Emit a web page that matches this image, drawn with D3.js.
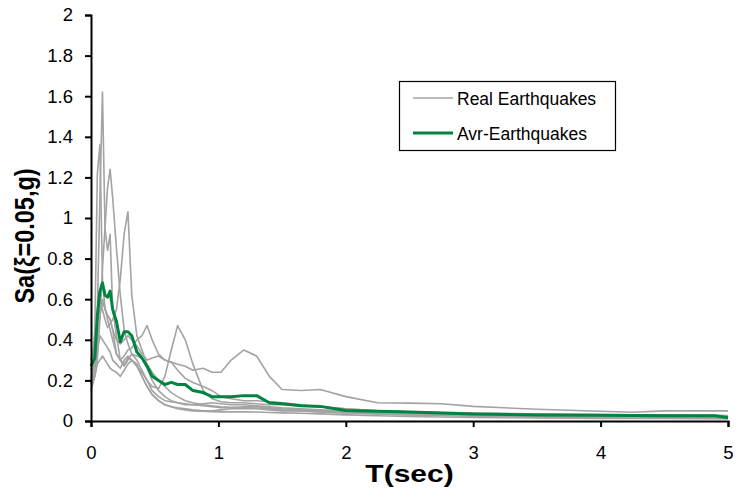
<!DOCTYPE html>
<html>
<head>
<meta charset="utf-8">
<script src="https://cdn.jsdelivr.net/npm/d3@7"></script>
<style>
  html, body { margin: 0; padding: 0; background: #fff; }
  svg { display: block; }
  text { font-family: Arial, "Liberation Sans", sans-serif; fill: #000; }
</style>
</head>
<body>
<svg id="chart" width="738" height="489"></svg>
<script>
// Period grid (sec) shared by every spectrum
const periods = [0, 0.03, 0.05, 0.07, 0.09, 0.11, 0.13, 0.15, 0.17, 0.20, 0.23, 0.26, 0.29, 0.32, 0.36, 0.40, 0.44, 0.48, 0.53, 0.58, 0.63, 0.68, 0.74, 0.80, 0.88, 0.95, 1.02, 1.1, 1.2, 1.3, 1.4, 1.5, 1.65, 1.8, 2.0, 2.25, 2.5, 2.75, 3.0, 3.5, 4.0, 4.25, 4.5, 4.9, 5.0];

// Spectral accelerations of the recorded ground motions (g)
const eq1 = [0.20, 0.30, 0.55, 1.10, 1.62, 0.95, 0.84, 0.92, 0.55, 0.42, 0.30, 0.28, 0.31, 0.30, 0.27, 0.22, 0.17, 0.13, 0.10, 0.08, 0.07, 0.065, 0.06, 0.055, 0.05, 0.05, 0.055, 0.06, 0.06, 0.06, 0.055, 0.05, 0.05, 0.045, 0.04, 0.035, 0.03, 0.03, 0.025, 0.022, 0.02, 0.02, 0.018, 0.016, 0.015];
const eq2 = [0.18, 0.45, 1.22, 1.36, 0.70, 0.55, 0.52, 0.50, 0.45, 0.33, 0.30, 0.27, 0.30, 0.33, 0.30, 0.25, 0.20, 0.15, 0.12, 0.10, 0.095, 0.09, 0.085, 0.08, 0.075, 0.07, 0.065, 0.065, 0.07, 0.07, 0.065, 0.06, 0.055, 0.05, 0.045, 0.04, 0.035, 0.033, 0.03, 0.027, 0.025, 0.024, 0.022, 0.02, 0.02];
const eq3 = [0.17, 0.22, 0.30, 0.50, 0.75, 0.95, 1.15, 1.24, 1.10, 0.85, 0.62, 0.45, 0.38, 0.33, 0.32, 0.31, 0.26, 0.20, 0.15, 0.12, 0.10, 0.09, 0.08, 0.08, 0.085, 0.09, 0.085, 0.08, 0.08, 0.075, 0.07, 0.065, 0.06, 0.055, 0.05, 0.045, 0.04, 0.037, 0.034, 0.03, 0.026, 0.025, 0.024, 0.022, 0.02];
const eq4 = [0.25, 0.35, 0.50, 0.60, 0.55, 0.50, 0.46, 0.48, 0.50, 0.55, 0.70, 0.92, 1.03, 0.62, 0.42, 0.35, 0.28, 0.24, 0.20, 0.17, 0.14, 0.12, 0.10, 0.09, 0.08, 0.075, 0.07, 0.068, 0.066, 0.064, 0.06, 0.055, 0.05, 0.045, 0.04, 0.035, 0.03, 0.027, 0.024, 0.02, 0.017, 0.015, 0.014, 0.013, 0.012];
const eq5 = [0.15, 0.25, 0.35, 0.42, 0.40, 0.38, 0.36, 0.34, 0.30, 0.28, 0.26, 0.30, 0.32, 0.30, 0.27, 0.24, 0.20, 0.17, 0.16, 0.22, 0.35, 0.47, 0.40, 0.28, 0.15, 0.11, 0.095, 0.09, 0.09, 0.085, 0.08, 0.08, 0.075, 0.07, 0.06, 0.05, 0.045, 0.04, 0.036, 0.032, 0.028, 0.027, 0.025, 0.024, 0.023];
const eq6 = [0.30, 0.40, 0.48, 0.55, 0.60, 0.55, 0.52, 0.50, 0.45, 0.40, 0.38, 0.40, 0.42, 0.40, 0.37, 0.33, 0.30, 0.31, 0.32, 0.30, 0.29, 0.28, 0.27, 0.25, 0.26, 0.24, 0.24, 0.30, 0.35, 0.32, 0.22, 0.155, 0.15, 0.155, 0.12, 0.09, 0.088, 0.085, 0.072, 0.058, 0.048, 0.043, 0.05, 0.05, 0.05];
const eq7 = [0.20, 0.28, 0.40, 0.52, 0.58, 0.56, 0.50, 0.45, 0.40, 0.33, 0.30, 0.32, 0.35, 0.36, 0.40, 0.42, 0.47, 0.40, 0.33, 0.30, 0.29, 0.25, 0.21, 0.19, 0.17, 0.15, 0.12, 0.11, 0.10, 0.10, 0.095, 0.09, 0.08, 0.07, 0.06, 0.05, 0.045, 0.042, 0.04, 0.035, 0.032, 0.03, 0.03, 0.028, 0.027];
const eq8 = [0.15, 0.22, 0.28, 0.30, 0.32, 0.30, 0.28, 0.26, 0.25, 0.24, 0.22, 0.25, 0.28, 0.30, 0.28, 0.22, 0.17, 0.13, 0.10, 0.08, 0.07, 0.06, 0.055, 0.05, 0.048, 0.046, 0.045, 0.045, 0.045, 0.044, 0.042, 0.04, 0.038, 0.035, 0.03, 0.026, 0.022, 0.02, 0.018, 0.015, 0.013, 0.012, 0.012, 0.011, 0.011];

// Mean spectrum of the set (g)
const avrEq = [0.27, 0.31, 0.52, 0.64, 0.68, 0.62, 0.61, 0.64, 0.55, 0.49, 0.39, 0.44, 0.44, 0.42, 0.34, 0.31, 0.27, 0.22, 0.20, 0.18, 0.19, 0.18, 0.18, 0.15, 0.14, 0.12, 0.12, 0.12, 0.125, 0.125, 0.09, 0.085, 0.075, 0.072, 0.052, 0.048, 0.044, 0.04, 0.034, 0.03, 0.028, 0.027, 0.026, 0.026, 0.016];

const realSeries = [eq1, eq2, eq3, eq4, eq5, eq6, eq7, eq8];
const xTicks = [0, 1, 2, 3, 4, 5];
const yTicks = [0, 0.2, 0.4, 0.6, 0.8, 1, 1.2, 1.4, 1.6, 1.8, 2];
const legendLabels = ["Real Earthquakes", "Avr-Earthquakes"];

const svg = d3.select("#chart");
const plotLeft = 91, plotRight = 728, plotTop = 15, plotBottom = 421;

const x = d3.scaleLinear().domain([0, 5]).range([plotLeft, plotRight]);
const y = d3.scaleLinear().domain([0, 2]).range([plotBottom, plotTop]);

const line = d3.line()
  .x((d, i) => x(periods[i]))
  .y(d => y(d));

const grey = "#a3a3a3";
const green = "#00843f";

// recorded spectra
svg.append("g")
  .selectAll("path")
  .data(realSeries)
  .join("path")
  .attr("d", line)
  .attr("fill", "none")
  .attr("stroke", grey)
  .attr("stroke-width", 1.6)
  .attr("stroke-linejoin", "round");

// mean spectrum
svg.append("path")
  .datum(avrEq)
  .attr("d", line)
  .attr("fill", "none")
  .attr("stroke", green)
  .attr("stroke-width", 3)
  .attr("stroke-linejoin", "round");

// axes
const xAxis = svg.append("g")
  .attr("transform", `translate(0,${plotBottom})`)
  .call(d3.axisBottom(x).tickValues(xTicks).tickFormat(d3.format("d")).tickSize(6).tickPadding(19));
const yAxis = svg.append("g")
  .attr("transform", `translate(${plotLeft},0)`)
  .call(d3.axisLeft(y).tickValues(yTicks).tickFormat(d => String(+d.toFixed(1))).tickSize(6).tickPadding(12));

[xAxis, yAxis].forEach(g => {
  g.select(".domain").attr("stroke", "#000").attr("stroke-width", 2);
  g.selectAll(".tick line").attr("stroke", "#000").attr("stroke-width", 2);
  g.selectAll(".tick text")
    .attr("fill", "#000")
    .style("font-size", "18.5px")
    .style("font-family", "Arial, 'Liberation Sans', sans-serif");
});

// axis titles (glyphs slightly widened)
svg.append("text")
  .attr("transform", `translate(${(plotLeft + plotRight) / 2},482) scale(1.25,1)`)
  .attr("text-anchor", "middle")
  .style("font-size", "24px")
  .style("font-weight", "bold")
  .text("T(sec)");

svg.append("text")
  .attr("transform", `translate(34,236) scale(1.18,1) rotate(-90)`)
  .attr("text-anchor", "middle")
  .style("font-size", "23.5px")
  .style("font-weight", "bold")
  .text("Sa(ξ=0.05,g)");

// legend
const legend = svg.append("g");
legend.append("rect")
  .attr("x", 399.5).attr("y", 81.5)
  .attr("width", 216).attr("height", 69)
  .attr("fill", "#fff")
  .attr("stroke", "#000")
  .attr("stroke-width", 1.2);

const legendStyles = [{ c: grey, w: 1.6, yy: 98 }, { c: green, w: 3, yy: 133 }];
legendStyles.forEach((s, i) => {
  legend.append("line")
    .attr("x1", 413).attr("x2", 453)
    .attr("y1", s.yy).attr("y2", s.yy)
    .attr("stroke", s.c).attr("stroke-width", s.w);
  legend.append("text")
    .attr("x", 457).attr("y", s.yy + 7)
    .style("font-size", "17.5px")
    .text(legendLabels[i]);
});
</script>
</body>
</html>
